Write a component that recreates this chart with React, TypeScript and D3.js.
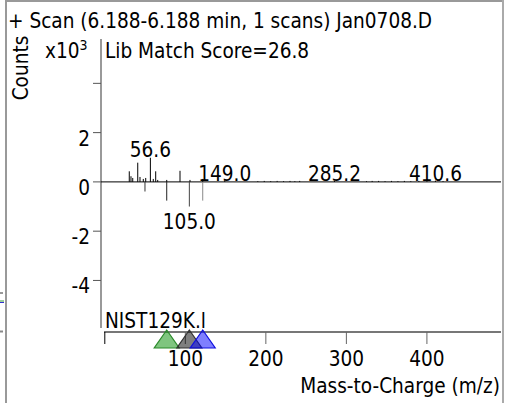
import React from 'react';
import * as d3 from 'd3';

// sample spectrum (counts x10^3)
const scanMz = [30.4, 32.5, 34.7, 40.9, 43.7, 47.8, 50.8, 56.6, 60.2, 63.2, 65.7, 76.9, 93.4, 105.8, 121.6, 149.0,
  190, 198, 206, 214, 222, 230, 236, 242, 285.2, 325, 332, 340, 348, 356, 364, 372, 380, 390, 400, 410.6, 420];
const scanCounts = [0.43, 0.23, 0.16, 0.78, 0.2, 0.12, 0.16, 0.98, 0.12, 0.43, 0.08, 0.08, 0.45, 0.08, 0.12, 0.06,
  0.03, 0.04, 0.03, 0.04, 0.03, 0.04, 0.03, 0.04, 0.05, 0.03, 0.04, 0.04, 0.03, 0.04, 0.03, 0.04, 0.03, 0.04, 0.03, 0.05, 0.03];

// library spectrum, drawn mirrored
const libMz = [49.9, 76.9, 105.0, 121.6];
const libCounts = [-0.39, -0.76, -1.0, -0.76];
const libColors = ['#333', '#222', '#444', '#8a8a8a'];

const scanLabels = ['56.6', '149.0', '285.2', '410.6'];
const scanLabelMz = [56.6, 149.0, 285.2, 410.6];
const scanLabelTop = [0.98, 0, 0, 0];
const libLabels = ['105.0'];
const libLabelMz = [105.0];

const markerMz = [76.9, 105.0, 121.6];
const markerFill = ['rgba(0,140,0,0.5)', 'rgba(0,0,0,0.5)', 'rgba(0,0,255,0.5)'];
const markerStroke = ['#2b8a2b', '#333', '#1010e0'];

const yTicks = [4, 2, 0, -2, -4];
const yTickLabels = ['', '2', '0', '-2', '-4'];
const xTicks = [0, 100, 200, 300, 400];
const xTickLabels = ['', '100', '200', '300', '400'];

const FONT = "'DejaVu Sans Condensed', 'DejaVu Sans', sans-serif";
const FS = 20.6;

export default function App() {
  const width = 505;
  const height = 403;

  const x = d3.scaleLinear().domain([0, 492]).range([104.8, 501]);
  const y = d3.scaleLinear().domain([-5.93, 5.8]).range([328, 39]);
  const axisY = 332;
  const y0 = y(0);

  const tri = (cx: number) => {
    const p = d3.path();
    p.moveTo(cx, axisY - 2);
    p.lineTo(cx + 12.5, axisY + 16);
    p.lineTo(cx - 12.5, axisY + 16);
    p.closePath();
    return p.toString();
  };

  return (
    <svg width={width} height={height} style={{ position: 'absolute', left: 0, top: 0, background: '#fff' }}
      fontFamily={FONT} fontSize={FS}>
      {/* frame */}
      <line x1={6} y1={1} x2={503} y2={1} stroke="#777" strokeWidth={1.5} />
      <line x1={6} y1={0} x2={6} y2={height} stroke="#999" strokeWidth={2} />
      <line x1={503} y1={0} x2={503} y2={height} stroke="#aaa" strokeWidth={2} />
      {/* bits of the neighbour panel */}
      <line x1={0} y1={293} x2={3} y2={293} stroke="#333" />
      <line x1={0} y1={301} x2={4} y2={301} stroke="#3a9a3a" />
      <line x1={0} y1={302.5} x2={4} y2={302.5} stroke="#3030d0" />
      <line x1={0} y1={331.5} x2={3} y2={331.5} stroke="#888" strokeWidth={2} />

      <text x={8} y={28}>+ Scan (6.188-6.188 min, 1 scans) Jan0708.D</text>
      <text transform="translate(28,68) rotate(-90)" textAnchor="middle">Counts</text>
      <text x={45} y={58}>x10<tspan dy={-8} fontSize={14}>3</tspan></text>
      <text x={105} y={58}>Lib Match Score=26.8</text>

      {/* y axis */}
      <line x1={101} y1={y.range()[1]} x2={101} y2={y.range()[0]} stroke="#777" strokeWidth={1.5} />
      {yTicks.map((t, i) => (
        <g key={t}>
          <line x1={93} x2={101} y1={y(t)} y2={y(t)} stroke="#555" />
          <text x={90} y={y(t) + 13} textAnchor="end">{yTickLabels[i]}</text>
        </g>
      ))}

      {/* baseline */}
      <line x1={101} x2={501} y1={y0} y2={y0} stroke="#000" />

      {scanMz.map((m, i) => (
        <line key={'s' + i} x1={x(m)} x2={x(m)} y1={y0} y2={y(scanCounts[i])} stroke="#000" />
      ))}
      {libMz.map((m, i) => (
        <line key={'l' + i} x1={x(m)} x2={x(m)} y1={y0} y2={y(libCounts[i])} stroke={libColors[i]} />
      ))}

      {scanLabels.map((s, i) => (
        <text key={s} x={x(scanLabelMz[i])} y={y(scanLabelTop[i]) - 1} textAnchor="middle">{s}</text>
      ))}
      {libLabels.map((s, i) => (
        <text key={s} x={x(libLabelMz[i])} y={229} textAnchor="middle">{s}</text>
      ))}

      {/* library panel */}
      <text x={105} y={328}>NIST129K.l</text>
      <line x1={104} x2={501} y1={axisY} y2={axisY} stroke="#777" strokeWidth={2} />
      {xTicks.map((t, i) => (
        <g key={t}>
          <line x1={x(t)} x2={x(t)} y1={axisY} y2={axisY + 12} stroke={i === 0 ? '#000' : '#666'} />
          <text x={x(t)} y={366} textAnchor="middle">{xTickLabels[i]}</text>
        </g>
      ))}
      {markerMz.map((m, i) => (
        <path key={'t' + i} d={tri(x(m))} fill={markerFill[i]} stroke={markerStroke[i]} strokeWidth={1.2} />
      ))}
      <text x={500} y={393} textAnchor="end">Mass-to-Charge (m/z)</text>
    </svg>
  );
}
